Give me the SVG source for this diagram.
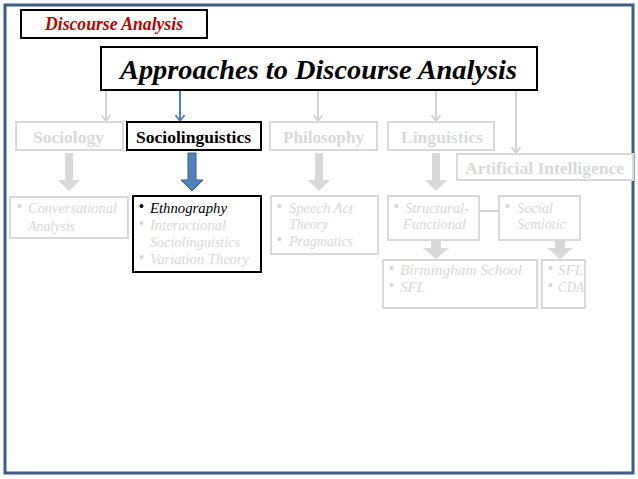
<svg xmlns="http://www.w3.org/2000/svg" width="638" height="479" viewBox="0 0 638 479">
<defs>
<style>
.frame{fill:#fff;stroke:#3c5d88;stroke-width:3}
.box{fill:#fff;stroke:#d9d9d9;stroke-width:2}
.bbox{fill:#fff;stroke:#000;stroke-width:2}
.t1{font-family:"Liberation Serif","Times New Roman",serif;font-weight:bold;font-size:17.5px;text-anchor:middle}
.g{fill:#d9d9d9}
.k{fill:#000}
.it{font-family:"Liberation Serif","Times New Roman",serif;font-style:italic;font-size:14.5px;fill:#d9d9d9}
.bul{font-family:"Liberation Sans",Arial,sans-serif;font-size:14px;fill:#d9d9d9}
.thin{stroke:#d4d4d4;stroke-width:2;fill:none}
.blk{fill:#d9d9d9}
</style>
<marker id="ah" markerWidth="12" markerHeight="12" refX="9" refY="6" orient="auto" markerUnits="userSpaceOnUse" viewBox="0 0 12 12">
<path d="M3,1.5 L9,6 L3,10.5" fill="none" stroke="#d4d4d4" stroke-width="1.8"/>
</marker>
<marker id="ahb" markerWidth="12" markerHeight="12" refX="9" refY="6" orient="auto" markerUnits="userSpaceOnUse" viewBox="0 0 12 12">
<path d="M3,1.5 L9,6 L3,10.5" fill="none" stroke="#4f81bd" stroke-width="1.8"/>
</marker>
</defs>
<rect x="0" y="0" width="638" height="479" fill="#fff"/>
<rect class="frame" x="5" y="5" width="628" height="468"/>

<g id="connectors">
<line class="thin" x1="106" y1="90" x2="106" y2="121" marker-end="url(#ah)"/>
<line x1="180" y1="90" x2="180" y2="121" stroke="#4f81bd" stroke-width="2" marker-end="url(#ahb)"/>
<line class="thin" x1="318" y1="90" x2="318" y2="121" marker-end="url(#ah)"/>
<line class="thin" x1="436" y1="90" x2="436" y2="121" marker-end="url(#ah)"/>
<line class="thin" x1="516" y1="90" x2="516" y2="153" marker-end="url(#ah)"/>
<path class="blk" d="M65,153 h8 v27 h7 l-11,11 l-11,-11 h7 z"/>
<path d="M188,153 h8 v27 h7 l-11,11 l-11,-11 h7 z" fill="#4f81bd" stroke="#385d8a" stroke-width="1"/>
<path class="blk" d="M315,153 h8 v27 h7 l-11,11 l-11,-11 h7 z"/>
<path class="blk" d="M432,153 h8 v27 h7 l-11,11 l-11,-11 h7 z"/>
<line class="thin" x1="479" y1="211" x2="499" y2="211"/>
<path class="blk" d="M431,241 h10 v7 h8 l-13,11 l-13,-11 h8 z"/>
<path class="blk" d="M555,241 h10 v7 h8 l-13,11 l-13,-11 h8 z"/>
</g>

<g id="discourse-analysis">
<rect x="21" y="10" width="186" height="28" fill="#fff" stroke="#000" stroke-width="2"/>
<text x="114" y="30" font-family="Liberation Serif,Times New Roman,serif" font-weight="bold" font-style="italic" font-size="18" fill="#c00000" text-anchor="middle" textLength="138" lengthAdjust="spacingAndGlyphs">Discourse Analysis</text>
</g>

<g id="approaches">
<rect x="101" y="47" width="436" height="43" fill="#fff" stroke="#000" stroke-width="2"/>
<text x="318.5" y="79" font-family="Liberation Serif,Times New Roman,serif" font-weight="bold" font-style="italic" font-size="28" fill="#000" text-anchor="middle" textLength="397" lengthAdjust="spacingAndGlyphs">Approaches to Discourse Analysis</text>
</g>

<g id="sociology">
<rect class="box" x="16" y="122" width="107" height="28"/>
<text class="t1 g" x="68.5" y="143" textLength="71" lengthAdjust="spacingAndGlyphs">Sociology</text>
</g>
<g id="sociolinguistics">
<rect class="bbox" x="127" y="122" width="134" height="28"/>
<text class="t1 k" x="193.5" y="143" textLength="115" lengthAdjust="spacingAndGlyphs">Sociolinguistics</text>
</g>
<g id="philosophy">
<rect class="box" x="270" y="122" width="107" height="28"/>
<text class="t1 g" x="323.5" y="143" textLength="81" lengthAdjust="spacingAndGlyphs">Philosophy</text>
</g>
<g id="linguistics">
<rect class="box" x="388" y="122" width="106" height="28"/>
<text class="t1 g" x="442" y="143" textLength="82" lengthAdjust="spacingAndGlyphs">Linguistics</text>
</g>
<g id="ai">
<rect class="box" x="457" y="154" width="176" height="26"/>
<text class="t1 g" x="544.5" y="174" textLength="159" lengthAdjust="spacingAndGlyphs">Artificial Intelligence</text>
</g>

<g id="conversational">
<rect class="box" x="10" y="197" width="118" height="41"/>
<text class="bul" x="17" y="211">•</text>
<text class="it" x="28" y="213" textLength="89" lengthAdjust="spacingAndGlyphs">Conversational</text>
<text class="it" x="28" y="231" textLength="47" lengthAdjust="spacingAndGlyphs">Analysis</text>
</g>

<g id="ethnography">
<rect class="bbox" x="133" y="196" width="128" height="76"/>
<text x="139" y="211" font-family="Liberation Sans,Arial,sans-serif" font-size="14" fill="#000">•</text>
<text x="150" y="213" font-family="Liberation Serif,Times New Roman,serif" font-style="italic" font-size="14.5" fill="#000" textLength="77" lengthAdjust="spacingAndGlyphs">Ethnography</text>
<text class="bul" x="139" y="228">•</text>
<text class="it" x="150" y="230" textLength="76" lengthAdjust="spacingAndGlyphs">Interactional</text>
<text class="it" x="150" y="247" textLength="90" lengthAdjust="spacingAndGlyphs">Sociolinguistics</text>
<text class="bul" x="139" y="262">•</text>
<text class="it" x="150" y="264" textLength="99" lengthAdjust="spacingAndGlyphs">Variation Theory</text>
</g>

<g id="speech-act">
<rect class="box" x="271" y="196" width="107" height="58"/>
<text class="bul" x="277" y="211">•</text>
<text class="it" x="289" y="213" textLength="64" lengthAdjust="spacingAndGlyphs">Speech Act</text>
<text class="it" x="289" y="229" textLength="39" lengthAdjust="spacingAndGlyphs">Theory</text>
<text class="bul" x="277" y="244">•</text>
<text class="it" x="289" y="246" textLength="64" lengthAdjust="spacingAndGlyphs">Pragmatics</text>
</g>

<g id="structural-functional">
<rect class="box" x="388" y="196" width="91" height="44"/>
<text class="bul" x="394" y="211">•</text>
<text class="it" x="405" y="213" textLength="64" lengthAdjust="spacingAndGlyphs">Structural-</text>
<text class="it" x="403" y="229" textLength="63" lengthAdjust="spacingAndGlyphs">Functional</text>
</g>

<g id="social-semiotic">
<rect class="box" x="499" y="196" width="81" height="44"/>
<text class="bul" x="505" y="211">•</text>
<text class="it" x="517" y="213" textLength="36" lengthAdjust="spacingAndGlyphs">Social</text>
<text class="it" x="517" y="229" textLength="49" lengthAdjust="spacingAndGlyphs">Semiotic</text>
</g>

<g id="birmingham">
<rect class="box" x="383" y="260" width="154" height="48"/>
<text class="bul" x="389" y="273">•</text>
<text class="it" x="400" y="275" textLength="122" lengthAdjust="spacingAndGlyphs">Birmingham  School</text>
<text class="bul" x="389" y="290">•</text>
<text class="it" x="400" y="292" textLength="25" lengthAdjust="spacingAndGlyphs">SFL</text>
</g>

<g id="sfl-cda">
<rect class="box" x="542" y="260" width="43" height="48"/>
<text class="bul" x="548" y="273">•</text>
<text class="it" x="558" y="275" textLength="25" lengthAdjust="spacingAndGlyphs">SFL</text>
<text class="bul" x="548" y="290">•</text>
<text class="it" x="558" y="292" textLength="26" lengthAdjust="spacingAndGlyphs">CDA</text>
</g>
</svg>
